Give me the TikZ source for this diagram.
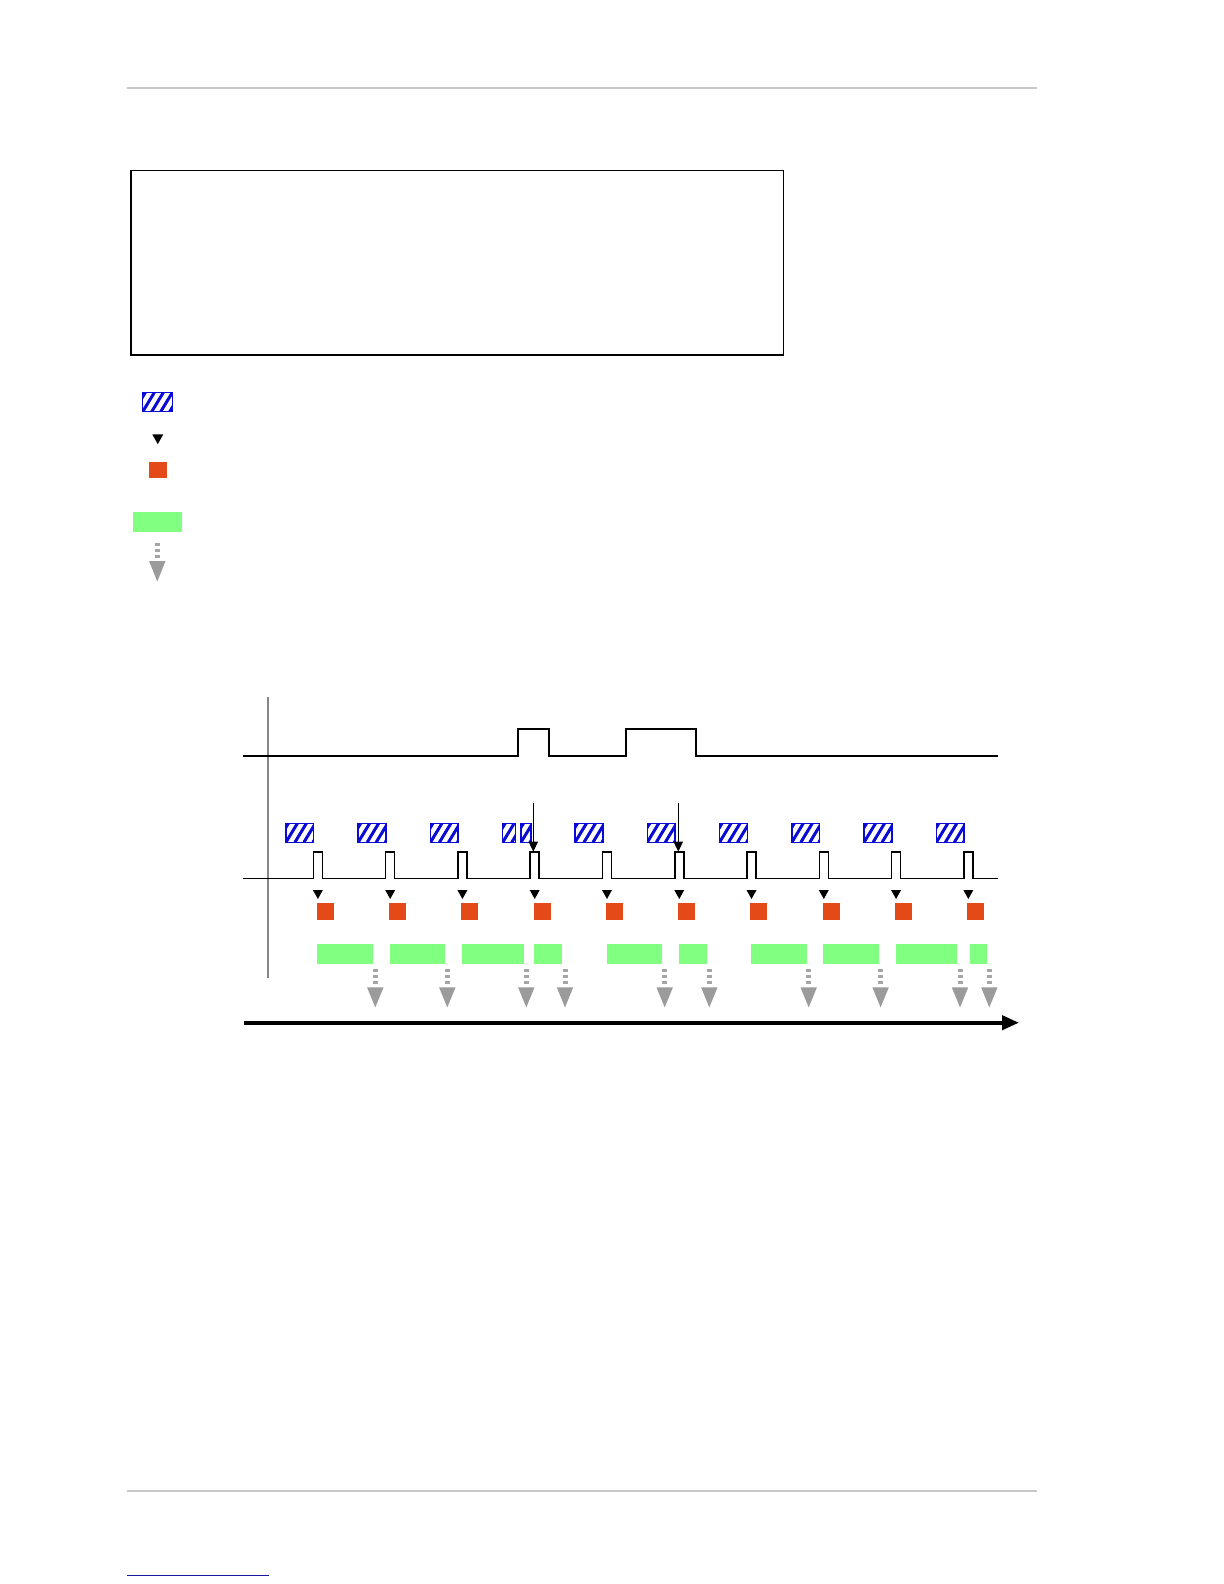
\documentclass[tikz,border=0pt]{standalone}
\usetikzlibrary{arrows.meta}
\definecolor{hblue}{RGB}{10,10,215}
\definecolor{sqorange}{RGB}{228,74,24}
\definecolor{bargreen}{RGB}{128,255,128}
\definecolor{arrgray}{RGB}{155,155,155}
\definecolor{dashgray}{RGB}{165,165,165}
\definecolor{rulegray}{RGB}{200,200,200}
\definecolor{footnavy}{RGB}{25,25,160}
\definecolor{axgray}{RGB}{135,135,135}
\tikzset{
  hatchbox/.style={draw=hblue, line width=0.75pt,
    path picture={\foreach \k in {-72,-63,...,72}{\draw[hblue, line width=1.5pt] ([xshift=\k*0.5pt]path picture bounding box.south west) -- ++(20,-33);}}},
  sigline/.style={line width=1pt, line join=miter},
  siglow/.style={line width=0.8pt, line join=miter},
  thinarr/.style={line width=0.55pt, -{Triangle[length=5pt,width=4.6pt]}},
  orsq/.style={fill=sqorange},
  grbar/.style={fill=bargreen},
}
\newcommand{\grayarrow}[3]{% center x, dash start y, head length
  \fill[dashgray] ({#1-2.5},{#2}) rectangle ({#1+2.5},{#2+3});
  \fill[dashgray] ({#1-2.5},{#2+6}) rectangle ({#1+2.5},{#2+9});
  \fill[dashgray] ({#1-2.5},{#2+12}) rectangle ({#1+2.5},{#2+15});
  \fill[arrgray] ({#1-8.2},{#2+18.4}) -- ({#1+8.2},{#2+18.4}) -- ({#1},{#2+18.4+#3}) -- cycle;
}
\newcommand{\blacktri}[3]{% center x, top y, size
  \fill[black] ({#1-#3/2},{#2}) -- ({#1+#3/2},{#2}) -- ({#1},{#2+#3*0.9}) -- cycle;
}
\begin{document}
\begin{tikzpicture}[x=0.5pt,y=-0.5pt]
\useasboundingbox (0,0) rectangle (1224,1584);
\fill[white] (0,0) rectangle (1224,1584);

% page rules
\draw[rulegray, line width=0.8pt] (127,88.3) -- (1037,88.3);
\draw[rulegray, line width=0.8pt] (127,1491) -- (1037,1491);
\draw[footnavy, line width=0.8pt] (127,1575.3) -- (268.6,1575.3);

% empty framed box
\draw[line width=0.65pt] (131,170.7) rectangle (783.5,355);

% legend
\draw[hatchbox] (142.7,392.3) rectangle (172.7,411.7);
\blacktri{157.8}{434.3}{11}
\fill[sqorange] (149,461.7) rectangle (167,477.7);
\fill[bargreen] (132.7,512) rectangle (182,531.7);
\grayarrow{157.3}{542.7}{20.5}

% timing diagram
\coordinate (vtop) at (267.7,697);
\coordinate (vbot) at (267.7,978.3);
\draw[axgray, line width=1pt] (vtop) -- (vbot);

% upper signal
\draw[sigline] (242.7,755.7) -- (517.7,755.7) -- (517.7,729) -- (549.3,729) -- (549.3,755.7)
  -- (626,755.7) -- (626,729) -- (696,729) -- (696,755.7) -- (997.7,755.7);

% lower pulse train
\draw[siglow] (242.7,878.3)
  \foreach \i in {0,...,9}{ -- ({313.4+72.27*\i},878.3) -- ++(0,-26.6) -- ++(9,0) -- ++(0,26.6) }
  -- (997.7,878.3);

% hatched boxes
\foreach \i in {0,1,2,4,5,6,7,8,9}{
  \draw[hatchbox] ({313.4+72.27*\i-27.5},823.3) rectangle ({313.4+72.27*\i+0.3},842.3);
}
\draw[hatchbox] (502.7,823.3) rectangle (515.7,842.3);
\draw[hatchbox] (521,823.3) rectangle (531,842.3);

% triangles and orange squares
\foreach \i in {0,...,9}{
  \blacktri{313.4+72.27*\i+4.5}{890}{10}
  \fill[sqorange] ({313.4+72.27*\i+3.4},902.7) rectangle ({313.4+72.27*\i+20.4},919.7);
}

% green bars
\foreach \a/\b in {316.7/373, 390/445, 462/524, 534/562, 606.7/662, 679/707, 751/807, 823/879, 896/957, 970/987}{
  \fill[bargreen] (\a,944) rectangle (\b,963.7);
}

% gray arrows
\foreach \c in {375.3,447.3,526.3,565,664.7,709.3,808.7,880.6,960,989.3}{
  \grayarrow{\c}{969}{20}
}

% event arrows
\coordinate (e1s) at (533.3,803);
\coordinate (e1e) at (533.3,851.7);
\coordinate (e2s) at (678.3,803);
\coordinate (e2e) at (678.3,851.7);
\draw[thinarr] (e1s) -- (e1e);
\draw[thinarr] (e2s) -- (e2e);

% time axis
\coordinate (ax0) at (244,1022.7);
\coordinate (ax1) at (1019,1022.7);
\draw[line width=2pt, -{Triangle[length=8.5pt,width=7pt]}] (ax0) -- (ax1);
\end{tikzpicture}
\end{document}
